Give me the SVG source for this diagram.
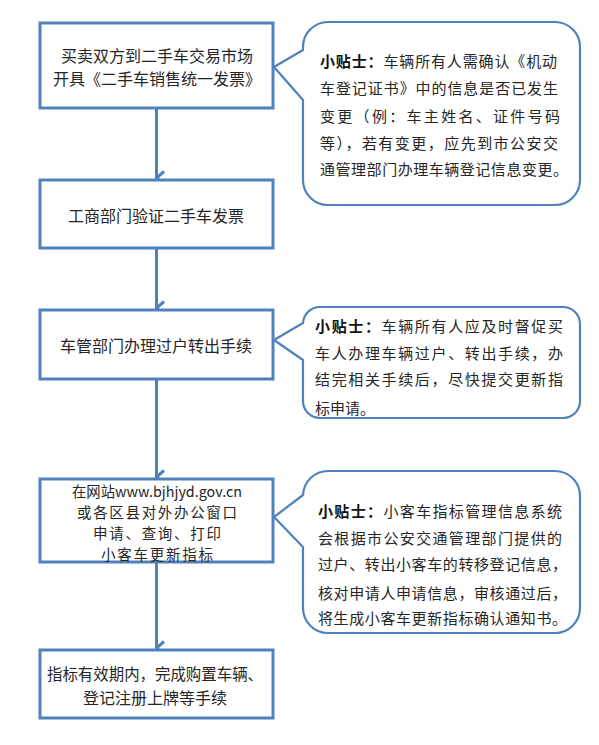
<svg xmlns="http://www.w3.org/2000/svg" width="599" height="745" viewBox="0 0 599 745">
<style>
.box{fill:#fff;stroke:#4f81bd;stroke-width:3}
.call{fill:#fff;stroke:#4f81bd;stroke-width:2.2;stroke-linejoin:round}
.t{font-family:"Noto Sans CJK SC","Liberation Sans",sans-serif;font-size:16px;fill:#262626;text-anchor:middle;dominant-baseline:central}
.s{font-size:14.5px}
.c{font-family:"Noto Sans CJK SC","Liberation Sans",sans-serif;font-size:15px;fill:#262626;dominant-baseline:central}
.b{font-weight:bold;fill:#111}
.conn{stroke:#4f81bd;stroke-width:3;fill:none}
</style>
<defs>
<marker id="arr" viewBox="0 0 16 14" refX="8" refY="12.5" markerWidth="16" markerHeight="14" markerUnits="userSpaceOnUse" orient="auto">
<polyline points="1.5,5 8,12.5 14.5,5" fill="none" stroke="#4f81bd" stroke-width="3"/>
</marker>
</defs>
<rect width="599" height="745" fill="#fff"/>
<g id="connectors">
<line class="conn" x1="156.5" y1="108" x2="156.5" y2="178" marker-end="url(#arr)"/>
<line class="conn" x1="156.5" y1="248" x2="156.5" y2="308" marker-end="url(#arr)"/>
<line class="conn" x1="156.5" y1="379" x2="156.5" y2="477" marker-end="url(#arr)"/>
<line class="conn" x1="156.5" y1="562" x2="156.5" y2="648" marker-end="url(#arr)"/>
</g>
<g id="step1">
<rect class="box" x="40" y="23" width="233" height="85"/>
<text class="t" x="157" y="55">买卖双方到二手车交易市场</text>
<text class="t" x="157" y="78">开具《二手车销售统一发票》</text>
</g>
<g id="step2">
<rect class="box" x="40" y="180" width="233" height="68"/>
<text class="t" x="156" y="215">工商部门验证二手车发票</text>
</g>
<g id="step3">
<rect class="box" x="40" y="310" width="233" height="69"/>
<text class="t" x="156" y="345">车管部门办理过户转出手续</text>
</g>
<g id="step4">
<rect class="box" x="40" y="479" width="233" height="83"/>
<text class="t s" x="157" y="490" textLength="170" lengthAdjust="spacingAndGlyphs">在网站www.bjhjyd.gov.cn</text>
<text class="t s" x="157" y="511" textLength="160" lengthAdjust="spacing">或各区县对外办公窗口</text>
<text class="t s" x="157" y="532" textLength="128" lengthAdjust="spacing">申请、查询、打印</text>
<text class="t s" x="157" y="553" textLength="112" lengthAdjust="spacing">小客车更新指标</text>
</g>
<g id="step5">
<rect class="box" x="40" y="650" width="233" height="68"/>
<text class="t" x="155" y="673" textLength="216" lengthAdjust="spacingAndGlyphs">指标有效期内，完成购置车辆、</text>
<text class="t" x="155" y="697">登记注册上牌等手续</text>
</g>
<g id="tip1">
<path class="call" d="M328,22 H555 A25,25 0 0 1 580,47 V180 A25,25 0 0 1 555,205 H328 A25,25 0 0 1 303,180 V100 L274,67 L303,50 V47 A25,25 0 0 1 328,22 Z"/>
<text class="c" x="320" y="60" textLength="237" lengthAdjust="spacing"><tspan class="b">小贴士：</tspan>车辆所有人需确认《机动</text>
<text class="c" x="320" y="87" textLength="238" lengthAdjust="spacing">车登记证书》中的信息是否已发生</text>
<text class="c" x="320" y="115" textLength="240" lengthAdjust="spacing">变更（例：车主姓名、证件号码</text>
<text class="c" x="320" y="142" textLength="238" lengthAdjust="spacing">等），若有变更，应先到市公安交</text>
<text class="c" x="320" y="168" textLength="248" lengthAdjust="spacing">通管理部门办理车辆登记信息变更。</text>
</g>
<g id="tip2">
<path class="call" d="M320,307 H563 A17,17 0 0 1 580,324 V401 A17,17 0 0 1 563,418 H320 A17,17 0 0 1 303,401 V360 L274,340 L303,323 A17,17 0 0 1 320,307 Z"/>
<text class="c" x="315" y="325" textLength="248" lengthAdjust="spacing"><tspan class="b">小贴士：</tspan>车辆所有人应及时督促买</text>
<text class="c" x="315" y="352" textLength="248" lengthAdjust="spacing">车人办理车辆过户、转出手续，办</text>
<text class="c" x="315" y="378" textLength="248" lengthAdjust="spacing">结完相关手续后，尽快提交更新指</text>
<text class="c" x="315" y="407">标申请。</text>
</g>
<g id="tip3">
<path class="call" d="M328,471 H555 A25,25 0 0 1 580,496 V608 A25,25 0 0 1 555,633 H328 A25,25 0 0 1 303,608 V547 L274,517 L303,495 A25,25 0 0 1 328,471 Z"/>
<text class="c" x="318" y="510" textLength="244" lengthAdjust="spacing"><tspan class="b">小贴士：</tspan>小客车指标管理信息系统</text>
<text class="c" x="318" y="537" textLength="244" lengthAdjust="spacing">会根据市公安交通管理部门提供的</text>
<text class="c" x="318" y="563" textLength="249" lengthAdjust="spacing">过户、转出小客车的转移登记信息，</text>
<text class="c" x="318" y="592" textLength="249" lengthAdjust="spacing">核对申请人申请信息，审核通过后，</text>
<text class="c" x="318" y="617" textLength="249" lengthAdjust="spacing">将生成小客车更新指标确认通知书。</text>
</g>
</svg>
